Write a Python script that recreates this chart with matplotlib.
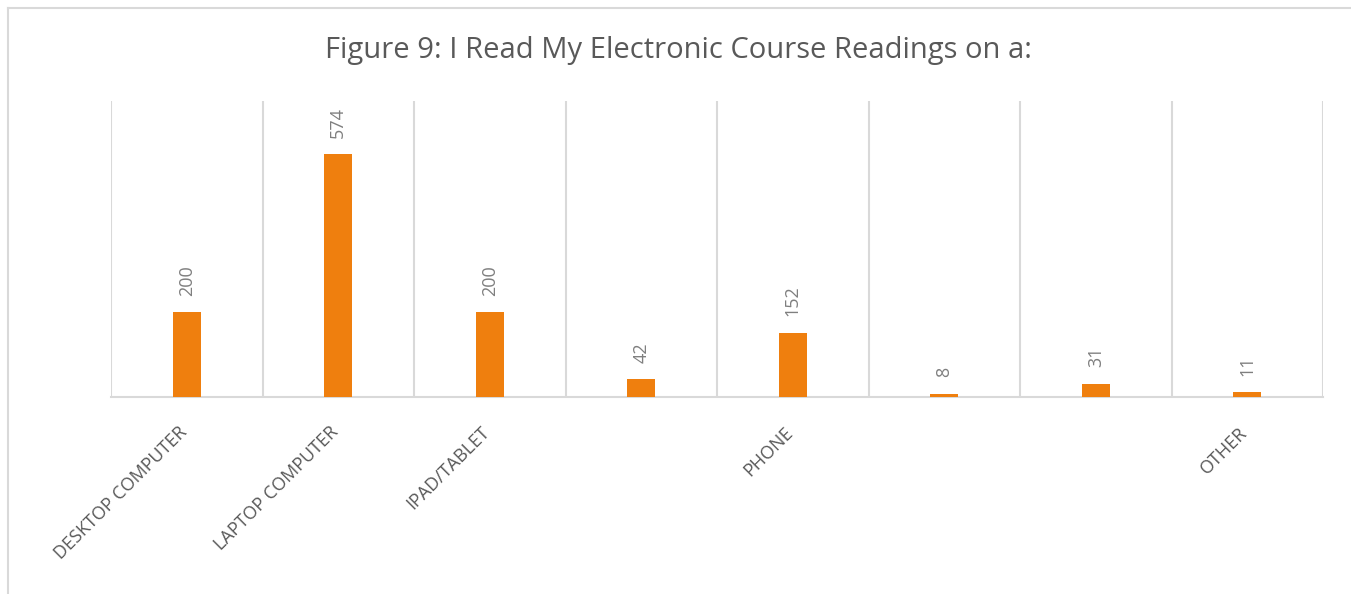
import numpy as np
import matplotlib.pyplot as plt
import matplotlib.transforms as mtransforms
from matplotlib.lines import Line2D

# data
categories = ['DESKTOP COMPUTER', 'LAPTOP COMPUTER', 'IPAD/TABLET', '',
              'PHONE', '', '', 'OTHER']
counts = [200, 574, 200, 42, 152, 8, 31, 11]
title = 'Figure 9: I Read My Electronic Course Readings on a:'

bar_col = '#EF7F0E'
grid_col = '#D9D9D9'
text_col = '#595959'

plt.rcParams['font.family'] = ['Open Sans', 'DejaVu Sans']

fig = plt.figure(figsize=(13.51, 5.94), dpi=100)
ax = fig.add_axes([0.0822, 0.3316, 0.8971, 0.4983])

x = np.arange(len(counts))
ax.bar(x, counts, width=0.185, color=bar_col, zorder=3)

ax.set_xlim(-0.5, len(counts) - 0.5)
ax.set_ylim(0, 700)

# vertical lines between categories
for b in np.arange(-0.5, len(counts), 1.0):
    ax.axvline(b, color=grid_col, lw=1.5, zorder=1)

for s in ['top', 'left', 'right']:
    ax.spines[s].set_visible(False)
ax.spines['bottom'].set_color(grid_col)
ax.spines['bottom'].set_linewidth(1.5)
ax.set_yticks([])

ax.set_xticks(x)
ax.set_xticklabels(categories, rotation=45, ha='right', va='top',
                   rotation_mode='anchor', fontsize=13, color=text_col)
ax.tick_params(axis='x', length=0, pad=19)
shift = mtransforms.ScaledTranslation(-0.09, 0, fig.dpi_scale_trans)
for lab in ax.get_xticklabels():
    lab.set_transform(lab.get_transform() + shift)

for xi, v in zip(x, counts):
    ax.annotate(str(v), (xi, v), xytext=(0, 12), textcoords='offset points',
                rotation=90, ha='center', va='bottom', fontsize=13,
                color='#7F7F7F')

fig.text(0.502, 0.915, title, ha='center', va='center', fontsize=21,
         color=text_col)

# outer chart border (left and top only visible in the crop)
fig.add_artist(Line2D([8 / 1351, 8 / 1351], [0, 1 - 8 / 594],
                      transform=fig.transFigure, color=grid_col, lw=1.5))
fig.add_artist(Line2D([8 / 1351, 1], [1 - 8 / 594, 1 - 8 / 594],
                      transform=fig.transFigure, color=grid_col, lw=1.5))

fig.savefig('out.png', dpi=100)
